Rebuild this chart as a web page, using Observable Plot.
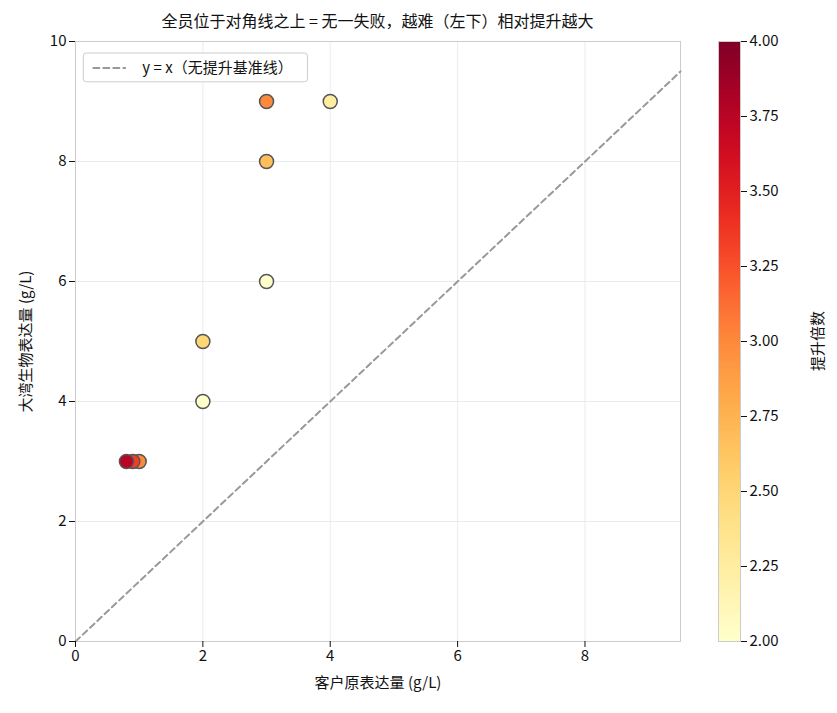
<!DOCTYPE html>
<html><head><meta charset="utf-8">
<script src="https://cdn.jsdelivr.net/npm/d3@7"></script>
<script src="https://cdn.jsdelivr.net/npm/@observablehq/plot@0.6"></script>
<style>
body{margin:0;background:#fff;font-family:"Noto Sans CJK SC","Noto Sans",sans-serif;}
#wrap{position:relative;width:837px;height:713px;}
#main,#cb{position:absolute;}
#title{position:absolute;left:75px;width:605px;top:8px;text-align:center;font-size:16px;color:#111;}
</style></head><body>
<div id="wrap"><div id="title">全员位于对角线之上 = 无一失败，越难（左下）相对提升越大</div><div id="main"></div><div id="cb"></div></div>
<script>
const clientExpr = [4, 3, 3, 3, 2, 2, 1.0, 0.9, 0.8];
const dawanExpr  = [9, 9, 8, 6, 5, 4, 3, 3, 3];
const ratio = clientExpr.map((c,i)=>dawanExpr[i]/c);
const data = clientExpr.map((c,i)=>({x:c,y:dawanExpr[i],r:ratio[i]}));
const xTicks=[0,2,4,6,8], yTicks=[0,2,4,6,8,10];
const cbTicks=[2,2.25,2.5,2.75,3,3.25,3.5,3.75,4];
const color = d3.scaleSequential(d3.interpolateYlOrRd).domain([2,4]);
const font='"Noto Sans CJK SC","Noto Sans",sans-serif';

const main = Plot.plot({
  width:837,height:713,marginLeft:75,marginRight:157,marginTop:41,marginBottom:72,
  style:{fontFamily:font,fontSize:"15px",color:"#111"},
  x:{domain:[0,9.5],label:null},
  y:{domain:[0,10],label:null},
  marks:[
    Plot.gridX(xTicks,{stroke:"#ddd",strokeOpacity:0.6}),
    Plot.gridY(yTicks,{stroke:"#ddd",strokeOpacity:0.6}),
    Plot.frame({stroke:"#ccc"}),
    Plot.line([[0,0],[9.5,9.5]],{stroke:"#999",strokeWidth:2,strokeDasharray:"6,4"}),
    Plot.dot(data,{x:"x",y:"y",r:7,fill:d=>color(d.r),stroke:"#555",strokeWidth:1.5}),
    Plot.axisX(xTicks,{tickFormat:d=>d,fontSize:15,label:"客户原表达量 (g/L)",labelAnchor:"center",labelOffset:46,labelArrow:false}),
    Plot.axisY(yTicks,{tickFormat:d=>d,fontSize:15,label:"大湾生物表达量 (g/L)",labelAnchor:"center",labelOffset:55,labelArrow:false}),
    Plot.rect([0],{x1:0.13,x2:3.65,y1:9.32,y2:9.8,fill:"white",stroke:"#ccc",rx:3}),
    Plot.line([[0.28,9.56],[0.78,9.56]],{stroke:"#999",strokeWidth:2,strokeDasharray:"6,4"}),
    Plot.text(["y = x（无提升基准线）"],{x:1.05,y:9.56,textAnchor:"start",fontSize:15,fill:"#111"})
  ]
});
document.getElementById("main").appendChild(main);

const steps=d3.range(2,4,0.01);
const cb = Plot.plot({
  width:119,height:713,marginLeft:0,marginRight:97,marginTop:41,marginBottom:72,
  style:{fontFamily:font,fontSize:"15px",color:"#111"},
  x:{domain:[0,1],axis:null},
  y:{domain:[2,4],axis:null},
  marks:[
    Plot.rect(steps,{x1:0,x2:1,y1:d=>d,y2:d=>Math.min(4,d+0.011),fill:d=>color(d+0.005)}),
    Plot.frame({stroke:"#ccc"}),
    Plot.axisY(cbTicks,{anchor:"right",tickFormat:d3.format(".2f"),fontSize:15,label:null})
  ]
});
const cbd=document.getElementById("cb"); cbd.style.left="718px"; cbd.style.top="0px";
cbd.appendChild(cb);
const lab=document.createElement("div");
lab.textContent="提升倍数";
lab.style.cssText="position:absolute;left:816px;top:341px;transform:translate(-50%,-50%) rotate(-90deg);font-size:15px;white-space:nowrap;color:#111;";
document.getElementById("wrap").appendChild(lab);
</script></body></html>
